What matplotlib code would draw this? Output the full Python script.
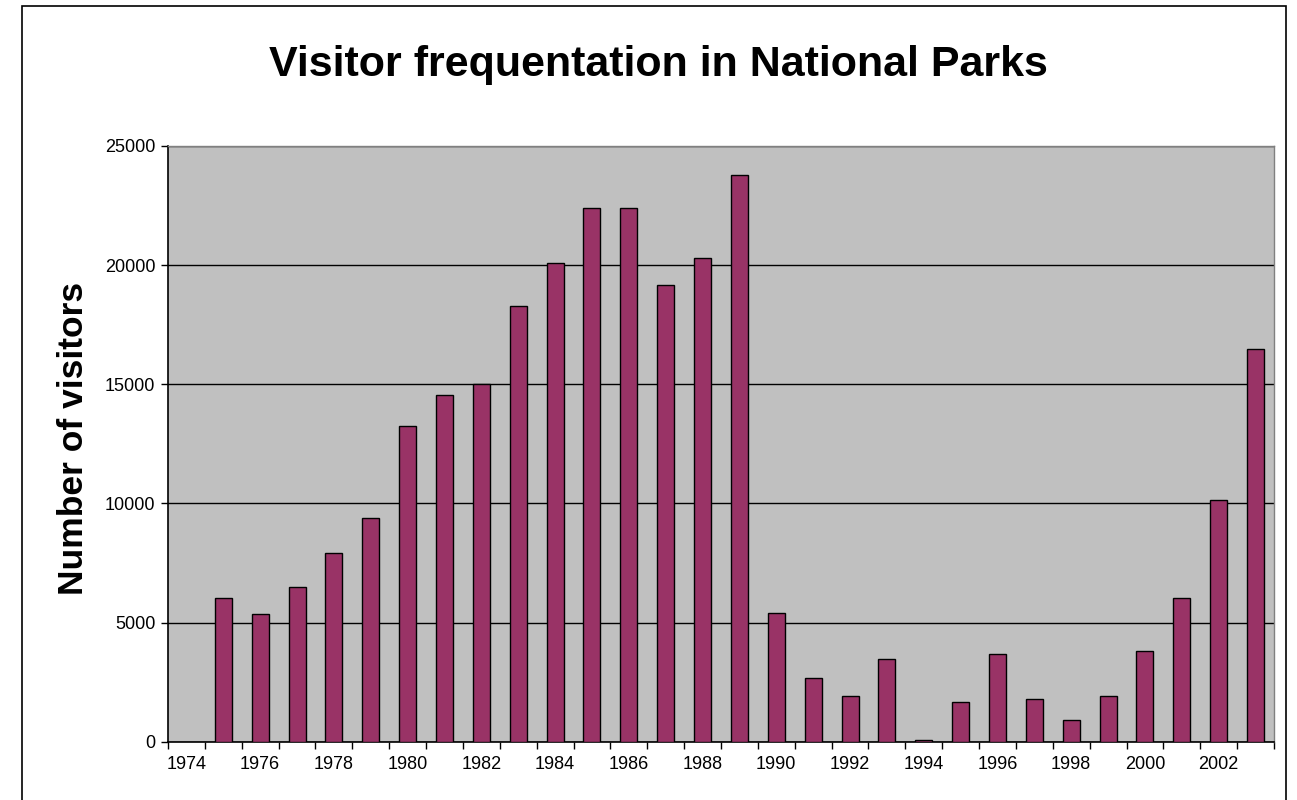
import numpy as np
import matplotlib
matplotlib.use("Agg")
import matplotlib.pyplot as plt
from matplotlib.patches import Rectangle
from matplotlib.ticker import FixedLocator, FixedFormatter

# data (1974 has no bar)
years = list(range(1974, 2004))
visitors = [np.nan, 6050, 5380, 6500, 7930, 9390, 13250, 14550, 15030, 18300,
            20100, 22380, 22380, 19150, 20300, 23770, 5390, 2690, 1930, 3460,
            70, 1670, 3670, 1810, 900, 1930, 3810, 6010, 10150, 16500]
y_ticks = [0, 5000, 10000, 15000, 20000, 25000]

plt.rcParams['font.family'] = ['Liberation Sans', 'DejaVu Sans']

fig = plt.figure(figsize=(12.97, 8.0), dpi=100)
ax = fig.add_axes([168 / 1297, 1 - 741.7 / 800, (1274 - 168) / 1297, (741.7 - 146) / 800])

# outer chart frame
fig.patches.append(Rectangle((22 / 1297, -0.02), (1286 - 22) / 1297, 1.02 - 6 / 800,
                             transform=fig.transFigure, fill=False,
                             edgecolor='black', linewidth=1.2, zorder=0))

ax.set_facecolor('#C0C0C0')
x = np.arange(len(years))
ax.bar(x, visitors, width=0.46, color='#993366', edgecolor='black', linewidth=1.0, zorder=3)

ax.set_xlim(-0.5, len(years) - 0.5)
ax.set_ylim(0, 25000)

# gridlines
ax.set_yticks(y_ticks)
ax.set_yticklabels([str(v) for v in y_ticks], fontsize=13)
ax.yaxis.grid(True, color='black', linewidth=1.0, zorder=1)
ax.set_axisbelow(True)
ax.tick_params(axis='y', direction='out', length=5, width=1, pad=4)

# category labels centred under the slots, ticks on slot boundaries
label_pos = [i for i in range(len(years)) if i % 2 == 0]
ax.xaxis.set_major_locator(FixedLocator(label_pos))
ax.xaxis.set_major_formatter(FixedFormatter([str(years[i]) for i in label_pos]))
ax.xaxis.set_minor_locator(FixedLocator(np.arange(len(years) + 1) - 0.5))
ax.tick_params(axis='x', which='major', length=0, labelsize=13, pad=10)
ax.tick_params(axis='x', which='minor', direction='out', length=5, width=1)

for side in ['top', 'right']:
    ax.spines[side].set_color('#808080')
    ax.spines[side].set_linewidth(1.0)
for side in ['left', 'bottom']:
    ax.spines[side].set_color('black')
    ax.spines[side].set_linewidth(1.2)

fig.text(0.5075, 0.919, 'Visitor frequentation in National Parks', ha='center', va='center',
         fontsize=31, fontweight='bold')
fig.text(0.057, 0.4525, 'Number of visitors', ha='center', va='center', rotation=90,
         fontsize=25.5, fontweight='bold')

fig.savefig('out.png', dpi=100)
